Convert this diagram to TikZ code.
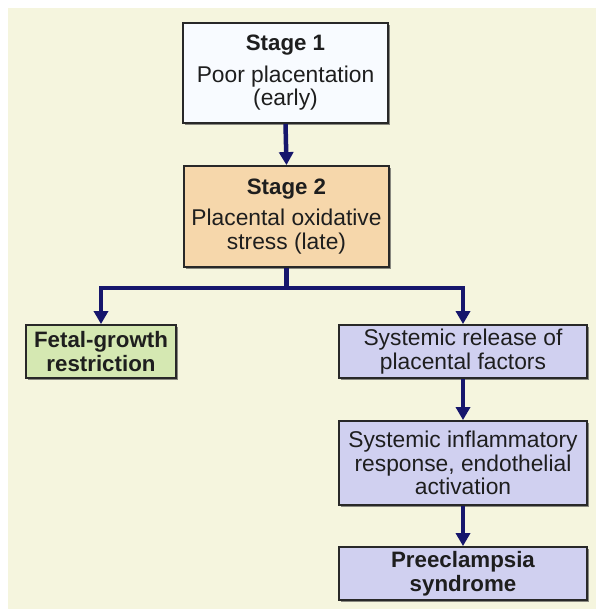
\documentclass[tikz,border=0pt]{standalone}
\usepackage{fontspec}
\setmainfont{Liberation Sans}
\usetikzlibrary{arrows.meta,shadows}
\definecolor{bgcream}{RGB}{245,245,222}
\definecolor{boxline}{RGB}{40,40,40}
\definecolor{textdark}{RGB}{30,30,30}
\definecolor{navyarrow}{RGB}{22,22,108}
\definecolor{sonefill}{RGB}{248,251,255}
\definecolor{stwofill}{RGB}{246,215,171}
\definecolor{fgfill}{RGB}{213,232,178}
\definecolor{lavfill}{RGB}{208,208,240}
\newcommand{\bfx}[1]{{\fontsize{22.3}{23.5}\selectfont\bfseries #1}}
\begin{document}
\begin{tikzpicture}[x=1pt,y=-1pt,
  box/.style={draw=boxline, line width=1.8pt, align=center, inner sep=0pt,
    font=\fontsize{22.8}{23.5}\selectfont, text=textdark,
    drop shadow={shadow xshift=2.2pt,shadow yshift=-2.2pt,fill=black!75,opacity=0.6}},
  conn/.style={draw=navyarrow, line width=4.5pt, line join=miter,
    -{Triangle[length=13pt,width=14pt]}},
  stem/.style={draw=navyarrow, line width=4.5pt, line join=miter}
]
\useasboundingbox (0,0) rectangle (596,609);
\fill[white] (0,0) rectangle (596,609);
\fill[bgcream] (8,8) rectangle (596,609);

\node[box, fill=sonefill, minimum width=205pt, minimum height=100pt] (s1) at (285.5,73)
  {\bfx{Stage 1}\\[8pt]Poor placentation\\(early)};
\node[box, fill=stwofill, minimum width=205pt, minimum height=101pt] (s2) at (286.5,216.5)
  {\bfx{Stage 2}\\[8pt]Placental oxidative\\stress (late)};
\node[box, fill=fgfill, minimum width=150pt, minimum height=53pt] (fg) at (101,351.5)
  {\bfx{Fetal-growth}\\\bfx{restriction}};
\node[box, fill=lavfill, minimum width=248pt, minimum height=53pt] (sr) at (463,351.5)
  {Systemic release of\\placental factors};
\node[box, fill=lavfill, minimum width=248pt, minimum height=84pt] (si) at (463,463)
  {Systemic inflammatory\\response, endothelial\\activation};
\node[box, fill=lavfill, minimum width=248pt, minimum height=53pt] (pr) at (463,573.5)
  {\bfx{Preeclampsia}\\\bfx{syndrome}};

\coordinate (j) at (286.5,288);
\draw[conn] (s1.south) -- (s2.north);
\draw[stem] (s2.south) -- (j);
\draw[conn] (j) -| (fg.north);
\draw[conn] (j) -| (sr.north);
\draw[conn] (sr.south) -- (si.north);
\draw[conn] (si.south) -- (pr.north);
\end{tikzpicture}
\end{document}
